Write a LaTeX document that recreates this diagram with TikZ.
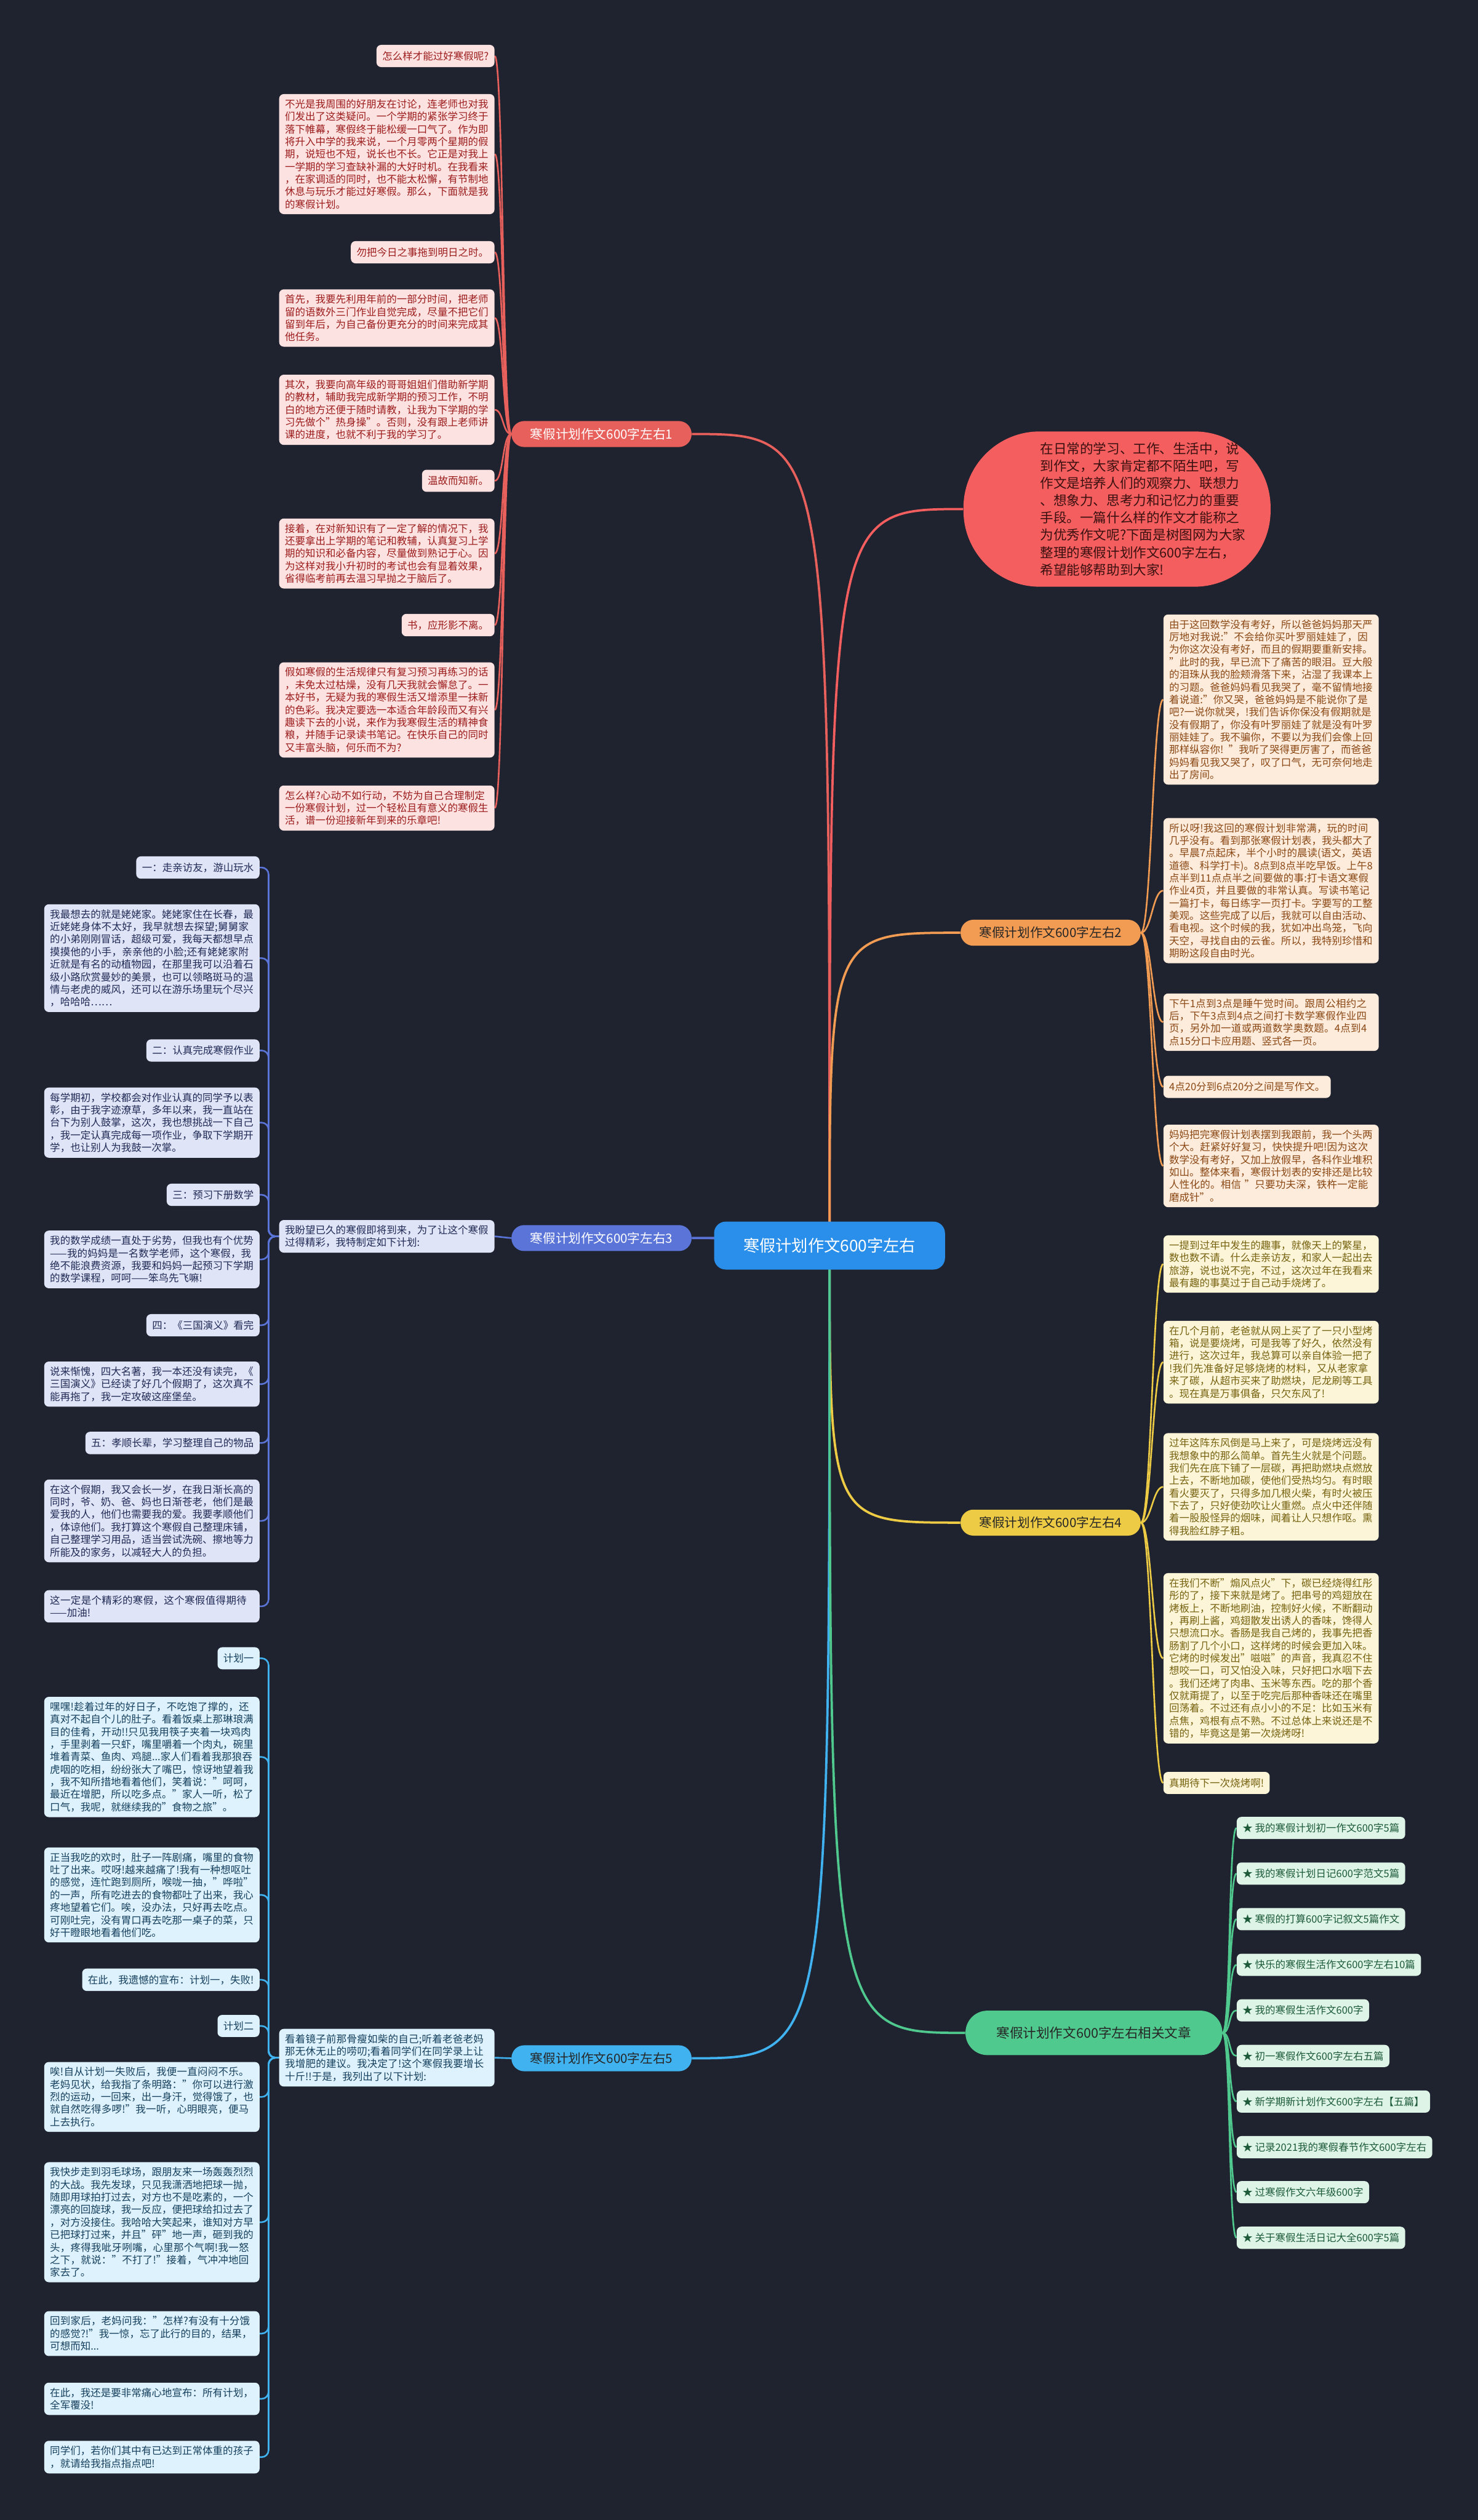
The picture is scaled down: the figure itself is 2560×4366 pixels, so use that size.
\documentclass[tikz,border=0pt]{standalone}
\usepackage{fontspec}
\setmainfont{Noto Sans CJK SC}
\XeTeXinterchartokenstate=1
\newcount\cjkc
\cjkc="3000
\loop \XeTeXcharclass\cjkc=1\relax \advance\cjkc by 1\relax \ifnum\cjkc<"A000 \repeat
\cjkc="FF00
\loop \XeTeXcharclass\cjkc=1\relax \advance\cjkc by 1\relax \ifnum\cjkc<"FFF0 \repeat
\XeTeXinterchartoks 1 1 = {\hskip0pt plus 0.5pt\relax}
\XeTeXinterchartoks 0 1 = {\hskip0pt plus 0.5pt\relax}
\XeTeXinterchartoks 1 0 = {\hskip0pt plus 0.5pt\relax}
\pgfdeclarelayer{bg}
\pgfdeclarelayer{edges}
\pgfsetlayers{bg,edges,main}
\definecolor{bgc}{HTML}{1F232F}
\definecolor{cfill}{HTML}{2A8FEA}
\definecolor{bubfill}{HTML}{F45E5E}
\definecolor{bubtext}{HTML}{3A1010}
\definecolor{c1}{HTML}{E8605C}
\definecolor{f1}{HTML}{FCE3E2}
\definecolor{t1}{HTML}{9C1C1C}
\definecolor{c2}{HTML}{F29B52}
\definecolor{f2}{HTML}{FDEBDC}
\definecolor{t2}{HTML}{8A4814}
\definecolor{c3}{HTML}{5A74D8}
\definecolor{f3}{HTML}{E0E4F7}
\definecolor{t3}{HTML}{1F2A55}
\definecolor{c4}{HTML}{EDCB45}
\definecolor{f4}{HTML}{FCF5D8}
\definecolor{t4}{HTML}{76620F}
\definecolor{c5}{HTML}{40B2F0}
\definecolor{f5}{HTML}{DDF2FC}
\definecolor{t5}{HTML}{16405E}
\definecolor{c6}{HTML}{4FC98D}
\definecolor{f6}{HTML}{DDF4E7}
\definecolor{t6}{HTML}{1D5A39}
\tikzset{
  box/.style={rounded corners=4pt, inner xsep=5pt, inner ysep=4.5pt,
    font=\fontsize{8.8}{10.85}\selectfont, align=left, text width=176.5pt},
  tag/.style={rounded corners=4pt, inner xsep=5pt, inner ysep=5.5pt,
    font=\fontsize{8.8}{10.85}\selectfont},
  s1/.style={fill=f1, text=t1}, s2/.style={fill=f2, text=t2},
  s3/.style={fill=f3, text=t3}, s4/.style={fill=f4, text=t4},
  s5/.style={fill=f5, text=t5}, s6/.style={fill=f6, text=t6},
  branch/.style={rounded corners=11pt, minimum width=156pt, minimum height=22.5pt,
    font=\fontsize{11}{13}\selectfont, inner sep=0pt},
  e1/.style={draw=c1, line width=1.4pt}, e2/.style={draw=c2, line width=1.4pt},
  e3/.style={draw=c3, line width=1.4pt}, e4/.style={draw=c4, line width=1.4pt},
  e5/.style={draw=c5, line width=1.4pt}, e6/.style={draw=c6, line width=1.4pt},
  main/.style={line width=2pt},
}
\begin{document}
\begin{tikzpicture}[x=0.5pt,y=-0.5pt]
\begin{pgfonlayer}{bg}
\fill[bgc] (0,0) rectangle (2560,4366);
\end{pgfonlayer}
\useasboundingbox (0,0) rectangle (2560,4366);

% center
\node[fill=cfill, text=white, rounded corners=10pt, minimum width=200pt, minimum height=41.5pt,
  font=\fontsize{14}{16}\selectfont] (c) at (1437,2158) {寒假计划作文600字左右};

% intro bubble
\node[fill=bubfill, rounded corners=66pt, minimum width=266pt, minimum height=134.5pt] (bub) at (1935,882) {};
\node[text=bubtext, align=left, font=\fontsize{11.5}{15}\selectfont, inner sep=0pt] (bubt) at (1980,882)
 {在日常的学习、工作、生活中，说\\到作文，大家肯定都不陌生吧，写\\作文是培养人们的观察力、联想力\\、想象力、思考力和记忆力的重要\\手段。一篇什么样的作文才能称之\\为优秀作文呢?下面是树图网为大家\\整理的寒假计划作文600字左右，\\希望能够帮助到大家!};

% branch nodes
\node[branch, fill=c1, text=white] (b1) at (1042,752) {寒假计划作文600字左右1};
\node[branch, fill=c2, text=black!85] (b2) at (1820,1616) {寒假计划作文600字左右2};
\node[branch, fill=c3, text=white] (b3) at (1042,2145) {寒假计划作文600字左右3};
\node[branch, fill=c4, text=black!85] (b4) at (1820,2638) {寒假计划作文600字左右4};
\node[branch, fill=c5, text=black!85] (b5) at (1042,3566) {寒假计划作文600字左右5};
\node[fill=c6, text=black!85, rounded corners=19pt, minimum width=222.5pt, minimum height=38.5pt,
  font=\fontsize{11.5}{14}\selectfont] (b6) at (1895,3522) {寒假计划作文600字左右相关文章};

% ---------- branch 1 ----------
\node[tag,s1,anchor=east] (a1) at (857,97) {怎么样才能过好寒假呢?};
\node[box,s1,anchor=east] (a2) at (857,267) {不光是我周围的好朋友在讨论，连老师也对我们发出了这类疑问。一个学期的紧张学习终于落下帷幕，寒假终于能松缓一口气了。作为即将升入中学的我来说，一个月零两个星期的假期，说短也不短，说长也不长。它正是对我上一学期的学习查缺补漏的大好时机。在我看来，在家调适的同时，也不能太松懈，有节制地休息与玩乐才能过好寒假。那么，下面就是我的寒假计划。};
\node[tag,s1,anchor=east] (a3) at (857,437) {勿把今日之事拖到明日之时。};
\node[box,s1,anchor=east] (a4) at (857,551) {首先，我要先利用年前的一部分时间，把老师留的语数外三门作业自觉完成，尽量不把它们留到年后，为自己备份更充分的时间来完成其他任务。};
\node[box,s1,anchor=east] (a5) at (857,710) {其次，我要向高年级的哥哥姐姐们借助新学期的教材，辅助我完成新学期的预习工作，不明白的地方还便于随时请教，让我为下学期的学习先做个"热身操"。否则，没有跟上老师讲课的进度，也就不利于我的学习了。};
\node[tag,s1,anchor=east] (a6) at (857,833) {温故而知新。};
\node[box,s1,anchor=east] (a7) at (857,959) {接着，在对新知识有了一定了解的情况下，我还要拿出上学期的笔记和教辅，认真复习上学期的知识和必备内容，尽量做到熟记于心。因为这样对我小升初时的考试也会有显着效果，省得临考前再去温习早抛之于脑后了。};
\node[tag,s1,anchor=east] (a8) at (857,1083) {书，应形影不离。};
\node[box,s1,anchor=east] (a9) at (857,1230) {假如寒假的生活规律只有复习预习再练习的话，未免太过枯燥，没有几天我就会懈怠了。一本好书，无疑为我的寒假生活又增添里一抹新的色彩。我决定要选一本适合年龄段而又有兴趣读下去的小说，来作为我寒假生活的精神食粮，并随手记录读书笔记。在快乐自己的同时又丰富头脑，何乐而不为?};
\node[box,s1,anchor=east] (a10) at (857,1400) {怎么样?心动不如行动，不妨为自己合理制定一份寒假计划，过一个轻松且有意义的寒假生活，谱一份迎接新年到来的乐章吧!};

% ---------- branch 2 ----------
\node[box,s2,anchor=west] (r1) at (2015,1212) {由于这回数学没有考好，所以爸爸妈妈那天严厉地对我说:"不会给你买叶罗丽娃娃了，因为你这次没有考好，而且的假期要重新安排。"此时的我，早已流下了痛苦的眼泪。豆大般的泪珠从我的脸颊滑落下来，沾湿了我课本上的习题。爸爸妈妈看见我哭了，毫不留情地接着说道:"你又哭，爸爸妈妈是不能说你了是吧?一说你就哭，!我们告诉你保没有假期就是没有假期了，你没有叶罗丽娃了就是没有叶罗丽娃娃了。我不骗你，不要以为我们会像上回那样纵容你! "我听了哭得更厉害了，而爸爸妈妈看见我又哭了，叹了口气，无可奈何地走出了房间。};
\node[box,s2,anchor=west] (r2) at (2015,1543) {所以呀!我这回的寒假计划非常满，玩的时间几乎没有。看到那张寒假计划表，我头都大了。早晨7点起床，半个小时的晨读(语文，英语道德、科学打卡)。8点到8点半吃早饭。上午8点半到11点点半之间要做的事:打卡语文寒假作业4页，并且要做的非常认真。写读书笔记一篇打卡，每日练字一页打卡。字要写的工整美观。这些完成了以后，我就可以自由活动、看电视。这个时候的我，犹如冲出鸟笼，飞向天空，寻找自由的云雀。所以，我特别珍惜和期盼这段自由时光。};
\node[box,s2,anchor=west] (r3) at (2015,1771) {下午1点到3点是睡午觉时间。跟周公相约之后，下午3点到4点之间打卡数学寒假作业四页，另外加一道或两道数学奥数题。4点到4点15分口卡应用题、竖式各一页。};
\node[tag,s2,anchor=west] (r4) at (2015,1883) {4点20分到6点20分之间是写作文。};
\node[box,s2,anchor=west] (r5) at (2015,2020) {妈妈把完寒假计划表摆到我跟前，我一个头两个大。赶紧好好复习，快快提升吧!因为这次数学没有考好，又加上放假早，各科作业堆积如山。整体来看，寒假计划表的安排还是比较人性化的。相信 "只要功夫深，铁杵一定能磨成针"。};

% ---------- branch 3 ----------
\node[box,s3,anchor=east] (i3) at (857,2142) {我盼望已久的寒假即将到来，为了让这个寒假过得精彩，我特制定如下计划:};
\node[tag,s3,anchor=east] (g1) at (450,1503) {一：走亲访友，游山玩水};
\node[box,s3,anchor=east] (g2) at (450,1660) {我最想去的就是姥姥家。姥姥家住在长春，最近姥姥身体不太好，我早就想去探望;舅舅家的小弟刚刚冒话，超级可爱，我每天都想早点摸摸他的小手，亲亲他的小脸;还有姥姥家附近就是有名的动植物园，在那里我可以沿着石级小路欣赏曼妙的美景，也可以领略斑马的温情与老虎的威风，还可以在游乐场里玩个尽兴，哈哈哈……};
\node[tag,s3,anchor=east] (g3) at (450,1820) {二：认真完成寒假作业};
\node[box,s3,anchor=east] (g4) at (450,1945) {每学期初，学校都会对作业认真的同学予以表彰，由于我字迹潦草，多年以来，我一直站在台下为别人鼓掌，这次，我也想挑战一下自己，我一定认真完成每一项作业，争取下学期开学，也让别人为我鼓一次掌。};
\node[tag,s3,anchor=east] (g5) at (450,2070) {三：预习下册数学};
\node[box,s3,anchor=east] (g6) at (450,2182) {我的数学成绩一直处于劣势，但我也有个优势——我的妈妈是一名数学老师，这个寒假，我绝不能浪费资源，我要和妈妈一起预习下学期的数学课程，呵呵——笨鸟先飞嘛!};
\node[tag,s3,anchor=east] (g7) at (450,2296) {四：《三国演义》看完};
\node[box,s3,anchor=east] (g8) at (450,2398) {说来惭愧，四大名著，我一本还没有读完，《三国演义》已经读了好几个假期了，这次真不能再拖了，我一定攻破这座堡垒。};
\node[tag,s3,anchor=east] (g9) at (450,2500) {五：孝顺长辈，学习整理自己的物品};
\node[box,s3,anchor=east] (g10) at (450,2635) {在这个假期，我又会长一岁，在我日渐长高的同时，爷、奶、爸、妈也日渐苍老，他们是最爱我的人，他们也需要我的爱。我要孝顺他们，体谅他们。我打算这个寒假自己整理床铺，自己整理学习用品，适当尝试洗碗、擦地等力所能及的家务，以减轻大人的负担。};
\node[box,s3,anchor=east] (g11) at (450,2783) {这一定是个精彩的寒假，这个寒假值得期待——加油!};

% ---------- branch 4 ----------
\node[box,s4,anchor=west] (y1) at (2015,2190) {一提到过年中发生的趣事，就像天上的繁星，数也数不请。什么走亲访友，和家人一起出去旅游，说也说不完，不过，这次过年在我看来最有趣的事莫过于自己动手烧烤了。};
\node[box,s4,anchor=west] (y2) at (2015,2360) {在几个月前，老爸就从网上买了了一只小型烤箱，说是要烧烤，可是我等了好久，依然没有进行，这次过年，我总算可以亲自体验一把了!我们先准备好足够烧烤的材料，又从老家拿来了碳，从超市买来了助燃块，尼龙刷等工具。现在真是万事俱备，只欠东风了!};
\node[box,s4,anchor=west] (y3) at (2015,2576) {过年这阵东风倒是马上来了，可是烧烤远没有我想象中的那么简单。首先生火就是个问题。我们先在底下铺了一层碳，再把助燃块点燃放上去，不断地加碳，使他们受热均匀。有时眼看火要灭了，只得多加几根火柴，有时火被压下去了，只好使劲吹让火重燃。点火中还伴随着一股股怪异的烟味，闻着让人只想作呕。熏得我脸红脖子粗。};
\node[box,s4,anchor=west] (y4) at (2015,2873) {在我们不断"煽风点火"下，碳已经烧得红彤彤的了，接下来就是烤了。把串号的鸡翅放在烤板上，不断地刷油，控制好火候，不断翻动，再刷上酱，鸡翅散发出诱人的香味，馋得人只想流口水。香肠是我自己烤的，我事先把香肠割了几个小口，这样烤的时候会更加入味。它烤的时候发出"嗞嗞"的声音，我真忍不住想咬一口，可又怕没入味，只好把口水咽下去。我们还烤了肉串、玉米等东西。吃的那个香仅就甭提了，以至于吃完后那种香味还在嘴里回荡着。不过还有点小小的不足：比如玉米有点焦，鸡根有点不熟。不过总体上来说还是不错的，毕竟这是第一次烧烤呀!};
\node[tag,s4,anchor=west] (y5) at (2015,3089) {真期待下一次烧烤啊!};

% ---------- branch 5 ----------
\node[box,s5,anchor=east] (i5) at (857,3565) {看着镜子前那骨瘦如柴的自己;听着老爸老妈那无休无止的唠叨;看着同学们在同学录上让我增肥的建议。我决定了!这个寒假我要增长十斤!!于是，我列出了以下计划:};
\node[tag,s5,anchor=east] (k1) at (450,2873) {计划一};
\node[box,s5,anchor=east] (k2) at (450,3044) {嘿嘿!趁着过年的好日子，不吃饱了撑的，还真对不起自个儿的肚子。看着饭桌上那琳琅满目的佳肴，开动!!只见我用筷子夹着一块鸡肉，手里剥着一只虾，嘴里嚼着一个肉丸，碗里堆着青菜、鱼肉、鸡腿...家人们看着我那狼吞虎咽的吃相，纷纷张大了嘴巴，惊讶地望着我，我不知所措地看着他们，笑着说："呵呵，最近在增肥，所以吃多点。"家人一听，松了口气，我呢，就继续我的"食物之旅"。};
\node[box,s5,anchor=east] (k3) at (450,3283) {正当我吃的欢时，肚子一阵剧痛，嘴里的食物吐了出来。哎呀!越来越痛了!我有一种想呕吐的感觉，连忙跑到厕所，喉咙一抽，"哗啦"的一声，所有吃进去的食物都吐了出来，我心疼地望着它们。唉，没办法，只好再去吃点。可刚吐完，没有胃口再去吃那一桌子的菜，只好干瞪眼地看着他们吃。};
\node[tag,s5,anchor=east] (k4) at (450,3430) {在此，我遗憾的宣布：计划一，失败!};
\node[tag,s5,anchor=east] (k5) at (450,3510) {计划二};
\node[box,s5,anchor=east] (k6) at (450,3633) {唉!自从计划一失败后，我便一直闷闷不乐。老妈见状，给我指了条明路："你可以进行激烈的运动，一回来，出一身汗，觉得饿了，也就自然吃得多啰!"我一听，心明眼亮，便马上去执行。};
\node[box,s5,anchor=east] (k7) at (450,3850) {我快步走到羽毛球场，跟朋友来一场轰轰烈烈的大战。我先发球，只见我潇洒地把球一抛，随即用球拍打过去，对方也不是吃素的，一个漂亮的回旋球，我一反应，便把球给扣过去了，对方没接住。我哈哈大笑起来，谁知对方早已把球打过来，并且"砰"地一声，砸到我的头，疼得我呲牙咧嘴，心里那个气啊!我一怒之下，就说："不打了!"接着，气冲冲地回家去了。};
\node[box,s5,anchor=east] (k8) at (450,4043) {回到家后，老妈问我："怎样?有没有十分饿的感觉?!"我一惊，忘了此行的目的，结果，可想而知...};
\node[box,s5,anchor=east] (k9) at (450,4156) {在此，我还是要非常痛心地宣布：所有计划，全军覆没!};
\node[box,s5,anchor=east] (k10) at (450,4257) {同学们，若你们其中有已达到正常体重的孩子，就请给我指点指点吧!};

% ---------- branch 6 ----------
\node[tag,s6,anchor=west] (n1) at (2142,3167) {★ 我的寒假计划初一作文600字5篇};
\node[tag,s6,anchor=west] (n2) at (2142,3246) {★ 我的寒假计划日记600字范文5篇};
\node[tag,s6,anchor=west] (n3) at (2142,3325) {★ 寒假的打算600字记叙文5篇作文};
\node[tag,s6,anchor=west] (n4) at (2142,3404) {★ 快乐的寒假生活作文600字左右10篇};
\node[tag,s6,anchor=west] (n5) at (2142,3483) {★ 我的寒假生活作文600字};
\node[tag,s6,anchor=west] (n6) at (2142,3562) {★ 初一寒假作文600字左右五篇};
\node[tag,s6,anchor=west] (n7) at (2142,3641) {★ 新学期新计划作文600字左右【五篇】};
\node[tag,s6,anchor=west] (n8) at (2142,3720) {★ 记录2021我的寒假春节作文600字左右};
\node[tag,s6,anchor=west] (n9) at (2142,3798) {★ 过寒假作文六年级600字};
\node[tag,s6,anchor=west] (n10) at (2142,3877) {★ 关于寒假生活日记大全600字5篇};

% ---------- connectors ----------
\begin{pgfonlayer}{edges}
\draw[main, draw=bubfill] (c.center) .. controls (c.center |- bub.west) .. (bub.west);
\draw[main, draw=c1] (c.center) .. controls (c.center |- b1.east) .. (b1.east);
\draw[main, draw=c2] (c.center) .. controls (c.center |- b2.west) .. (b2.west);
\draw[main, draw=c3] (c.center) .. controls (c.center |- b3.east) .. (b3.east);
\draw[main, draw=c4] (c.center) .. controls (c.center |- b4.west) .. (b4.west);
\draw[main, draw=c5] (c.center) .. controls (c.center |- b5.east) .. (b5.east);
\draw[main, draw=c6] (c.center) .. controls (c.center |- b6.west) .. (b6.west);
\foreach \n in {a1,a2,a3,a4,a5,a6,a7,a8,a9,a10}
  \draw[e1] (b1.west) .. controls +(-15,0) and +(15,0) .. (\n.east);
\foreach \n in {r1,r2,r3,r4,r5}
  \draw[e2] (b2.east) .. controls +(18,0) and +(-18,0) .. (\n.west);
\draw[e3] (b3.west) -- (i3.east);
\foreach \n in {g1,g2,g3,g4,g5,g6,g7,g8,g9,g10,g11}
  \draw[e3, rounded corners=6pt] (i3.west) -- ++(-18,0) |- (\n.east);
\foreach \n in {y1,y2,y3,y4,y5}
  \draw[e4] (b4.east) .. controls +(18,0) and +(-18,0) .. (\n.west);
\draw[e5] (b5.west) -- (i5.east);
\foreach \n in {k1,k2,k3,k4,k5,k6,k7,k8,k9,k10}
  \draw[e5, rounded corners=6pt] (i5.west) -- ++(-18,0) |- (\n.east);
\foreach \n in {n1,n2,n3,n4,n5,n6,n7,n8,n9,n10}
  \draw[e6] (b6.east) .. controls +(14,0) and +(-14,0) .. (\n.west);
\end{pgfonlayer}
\end{tikzpicture}
\end{document}
